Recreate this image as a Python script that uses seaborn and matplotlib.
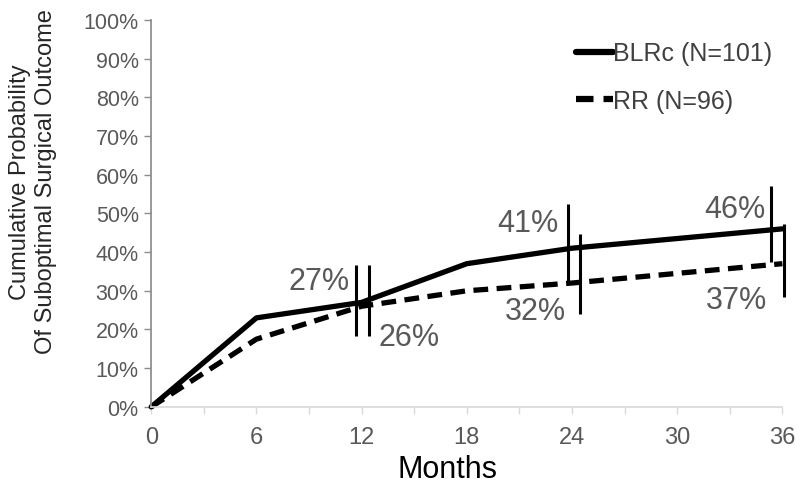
import matplotlib
matplotlib.use("Agg")
import matplotlib.pyplot as plt
import seaborn as sns
import numpy as np
import pandas as pd
from matplotlib.ticker import FixedLocator, PercentFormatter

sns.set_theme(style="white")
plt.rcParams['font.family'] = ['Liberation Sans', 'DejaVu Sans']

# data
months = [0, 6, 12, 18, 24, 36]
blrc = [0, 23, 27, 37, 41, 46]
rr = [0, 17.5, 26, 30, 32, 37]

# vertical interval bars (month, low %, high %)
bar_x = [11.7, 12.45, 23.75, 24.45, 35.35, 36.1]
bar_lo = [18.3, 18.3, 31.8, 24.0, 37.5, 28.3]
bar_hi = [36.7, 36.7, 52.4, 44.7, 57.2, 47.2]

# percentage labels
lab_text = ['27%', '26%', '41%', '32%', '46%', '37%']
lab_x = [9.6, 14.7, 21.5, 21.9, 33.3, 33.4]
lab_y = [32.6, 18.0, 47.5, 24.8, 51.2, 27.6]

names = ['BLRc (N=101)', 'RR (N=96)']
df = pd.DataFrame({
    'Months': months * 2,
    'Prob': blrc + rr,
    'Group': [names[0]] * len(months) + [names[1]] * len(months),
})

fig = plt.figure(figsize=(8, 4.85), dpi=100)
ax = fig.add_axes([0.189, 0.159, 0.789, 0.798])

sns.lineplot(data=df, x='Months', y='Prob', style='Group', color='black',
             dashes={names[0]: '', names[1]: (2.8, 1.6)}, linewidth=3.8,
             ax=ax, clip_on=False)

ax.vlines(bar_x, bar_lo, bar_hi, color='black', linewidth=2.2, clip_on=False)

for t, x, y in zip(lab_text, lab_x, lab_y):
    ax.text(x, y, t, fontsize=22, color='#595959', ha='center', va='center')

ax.set_xlim(0, 36)
ax.set_ylim(0, 100)
ax.set_xticks(np.arange(0, 37, 6))
ax.xaxis.set_minor_locator(FixedLocator(np.arange(0, 37, 3)))
ax.set_yticks(np.arange(0, 101, 10))
ax.yaxis.set_major_formatter(PercentFormatter(decimals=0))
ax.tick_params(axis='x', which='both', direction='out', length=5, width=1,
               color='#d9d9d9', labelsize=17, labelcolor='#595959', pad=9, bottom=True)
ax.tick_params(axis='y', direction='out', length=5, width=1, color='#8c8c8c',
               labelsize=15.5, labelcolor='#595959', pad=4, left=True)

for s in ['top', 'right']:
    ax.spines[s].set_visible(False)
ax.spines['left'].set_color('#8c8c8c')
ax.spines['bottom'].set_color('#d9d9d9')

ax.set_xlabel('Months', fontsize=22, color='black')
ax.xaxis.set_label_coords(0.469, -0.122)
ax.set_ylabel('Cumulative Probability\nOf Suboptimal Surgical Outcome', fontsize=17,
              color='#262626', linespacing=1.25, ha='center', va='center')
ax.yaxis.set_label_coords(-0.187, 0.584)

leg = ax.legend(loc='upper right', bbox_to_anchor=(1.0, 0.97), frameon=False,
                fontsize=18, handlelength=1.5, handletextpad=0.0, labelspacing=0.95,
                borderaxespad=0.0)
for t in leg.get_texts():
    t.set_color('#404040')
for h in leg.get_lines():
    h.set_linewidth(4.5)

fig.savefig('out.png', dpi=100)
